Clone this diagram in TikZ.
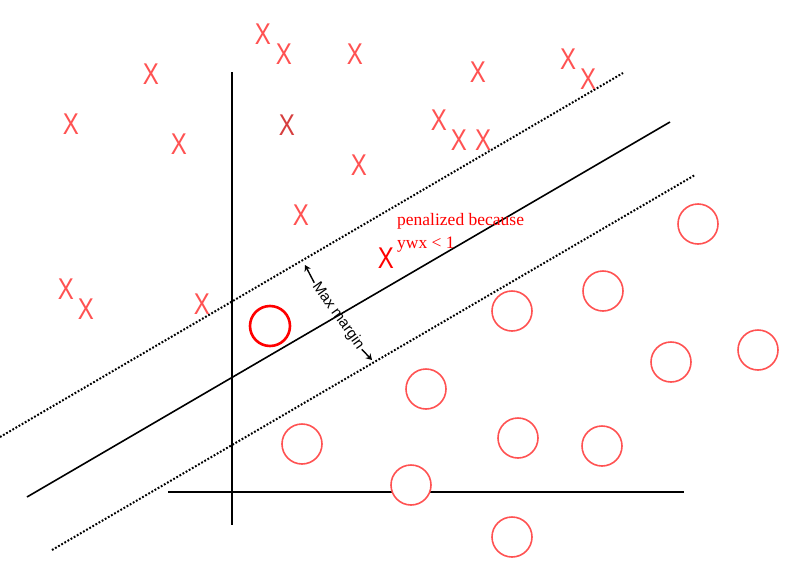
\documentclass[tikz,border=0pt]{standalone}
\usepackage{fontspec}
\setmainfont{Liberation Sans}
\newfontfamily\notefont{Liberation Serif}
\usetikzlibrary{arrows.meta}
\definecolor{pointred}{RGB}{255,82,82}
\definecolor{darkx}{RGB}{214,62,62}
\tikzset{negmark/.style={text=pointred,inner sep=0pt,font=\fontsize{30}{30}\selectfont,xscale=0.8}}
\tikzset{negbad/.style={negmark,text=red}}
\tikzset{posmark/.style={draw=pointred,fill=white,circle,minimum size=40pt,inner sep=0pt,line width=1.6pt}}
\tikzset{posbad/.style={posmark,draw=red,line width=2.6pt}}
\tikzset{axis/.style={line width=1.6pt}}
\tikzset{marginline/.style={line width=2pt,dash pattern=on 1.8pt off 1.8pt}}
\tikzset{marginarrow/.style={-{Stealth[length=6pt,width=7pt]},line width=1.4pt}}

\begin{document}
\begin{tikzpicture}[x=1pt,y=-1pt]
    \useasboundingbox[fill=white] (0,0) rectangle (796,568);
    % axes
    \coordinate (ytop) at (232,72);
    \coordinate (ybot) at (232,525);
    \coordinate (xleft) at (168,492);
    \coordinate (xright) at (684,492);
    \draw[axis] (ytop) -- (ybot);
    \draw[axis] (xleft) -- (xright);
    % separator and margins
    \coordinate (s0) at (27,497);
    \coordinate (s1) at (670,122);
    \coordinate (u0) at (0,437);
    \coordinate (u1) at (623,73);
    \coordinate (l0) at (52,550);
    \coordinate (l1) at (695,175);
    \draw[axis] (s0) -- (s1);
    \draw[marginline] (u0) -- (u1);
    \draw[marginline] (l0) -- (l1);
    % max margin
    \node[rotate=-54.5,font=\fontsize{15}{15}\selectfont,inner sep=1.5pt] (mm) at (338,316) {Max margin};
    \coordinate (mtop) at (305,265);
    \coordinate (mbot) at (372,360);
        \draw[marginarrow] (mm.west) -- (mtop);
        \draw[marginarrow] (mm.east) -- (mbot);
    % points
    \foreach \p [count=\i] in {(698,224),(603,291),(512,311),(671,362),(758,350),(426,389),(518,438),(602,446),(411,485),(512,537),(302,444)}
        \node[posmark] (o\i) at \p {};
    \node[posbad] (obad) at (270,326) {};
    \foreach \p [count=\i] in {(263,34),(284,54),(355,54),(478,72),(439,120),(459,140),(483,140),(359,165),(151,74),(71,124),(179,144),(66,289),(86,309),(202,304),(568,59),(588,79),(301,215)}
        \node[negmark] (x\i) at \p {X};
    \node[negmark,text=darkx] (xdark) at (287,125) {X};
    \node[negbad] (xbad) at (386,258) {X};
    \node[anchor=base west,inner sep=0pt,text=red,align=left,font=\notefont\fontsize{17.5}{23}\selectfont] (note) at (397,248) {penalized because\\ywx < 1};
\end{tikzpicture}
\end{document}
